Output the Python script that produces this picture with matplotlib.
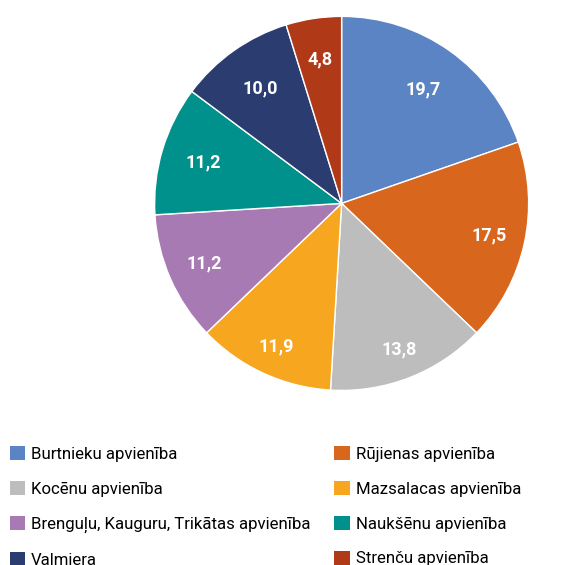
import numpy as np
import matplotlib
matplotlib.use("Agg")
import matplotlib.pyplot as plt
from matplotlib.patches import Patch

plt.rcParams['font.family'] = ['Roboto', 'DejaVu Sans']

# data
labels = ["Burtnieku apvienība", "Rūjienas apvienība", "Kocēnu apvienība",
          "Mazsalacas apvienība", "Brenguļu, Kauguru, Trikātas apvienība",
          "Naukšēnu apvienība", "Valmiera", "Strenču apvienība"]
values = [19.7, 17.5, 13.8, 11.9, 11.2, 11.2, 10.0, 4.8]
colors = ["#5B84C4", "#D8661C", "#BDBDBD", "#F6A71F", "#A87AB3",
          "#00918C", "#2A3C70", "#B03A17"]
# radial position of each value label (fraction of radius)
label_r = [0.75, 0.81, 0.84, 0.84, 0.80, 0.77, 0.75, 0.78]

fig = plt.figure(figsize=(5.81, 5.65), dpi=100)
ax = fig.add_axes([0.266, 0.309, 0.644, 0.662])

wedges, _ = ax.pie(values, colors=colors, startangle=90, counterclock=False,
                   wedgeprops=dict(edgecolor="white", linewidth=1))
ax.set_xlim(-1, 1)
ax.set_ylim(-1, 1)
ax.set_aspect("equal")

# value labels inside slices
total = sum(values)
ang0 = 90
for v, r in zip(values, label_r):
    mid = ang0 - v / total * 360 / 2
    ang0 -= v / total * 360
    x = r * np.cos(np.radians(mid))
    y = r * np.sin(np.radians(mid))
    ax.text(x, y, f"{v:.1f}".replace(".", ","), ha="center", va="center",
            color="white", fontsize=13, fontweight="bold")

# legend, 2 columns filled row by row
order = [0, 2, 4, 6, 1, 3, 5, 7]
handles = [Patch(facecolor=colors[i], label=labels[i]) for i in order]
fig.legend(handles=handles, ncol=2, loc="upper left", bbox_to_anchor=(0.017, 0.21),
           frameon=False, fontsize=12.1, handlelength=0.92, handleheight=0.9,
           handletextpad=0.35, labelspacing=1.13, columnspacing=1.4,
           borderaxespad=0, borderpad=0)

fig.savefig("out.png", dpi=100)
